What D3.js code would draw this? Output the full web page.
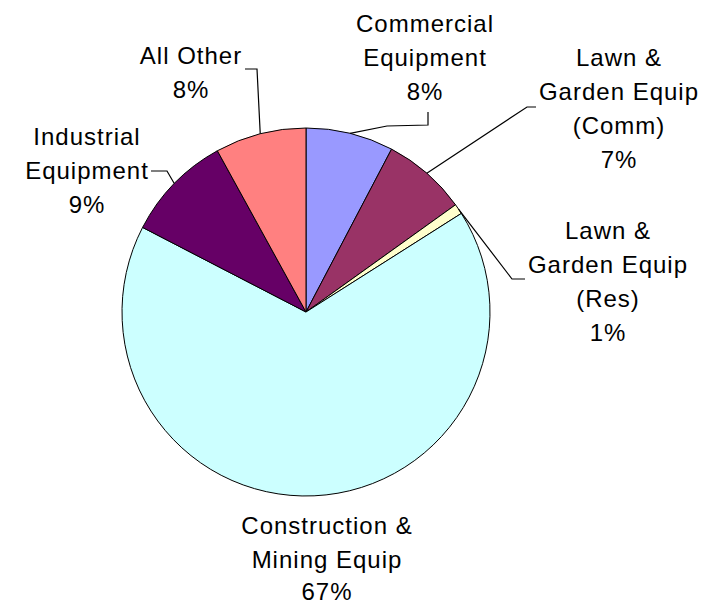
<!DOCTYPE html>
<html>
<head>
<meta charset="utf-8">
<script src="https://cdn.jsdelivr.net/npm/d3@7"></script>
<style>
  html, body { margin: 0; padding: 0; background: #fff; }
  svg { display: block; }
  text { font-family: "Liberation Sans", Arial, sans-serif; font-size: 24px; letter-spacing: 1px; fill: #000; }
</style>
</head>
<body>
<svg id="chart" width="710" height="607"></svg>
<script>
// ---- data ----
const categories = [
  "Commercial Equipment",
  "Lawn & Garden Equip (Comm)",
  "Lawn & Garden Equip (Res)",
  "Construction & Mining Equip",
  "Industrial Equipment",
  "All Other"
];
const values = [7.7, 7.4, 0.9, 66.6, 9.4, 8.0];
const colors = ["#9999FF", "#993366", "#FFFFCC", "#CCFFFF", "#660066", "#FF8080"];
const labelLines = [
  ["Commercial", "Equipment"],
  ["Lawn &", "Garden Equip", "(Comm)"],
  ["Lawn &", "Garden Equip", "(Res)"],
  ["Construction &", "Mining Equip"],
  ["Industrial", "Equipment"],
  ["All Other"]
];

// ---- layout (positions only) ----
const cx = 306, cy = 312, R = 184;
const lineH = 34;
const labelLayout = [
  { x: 425, y: 32 },
  { x: 619, y: 66 },
  { x: 608, y: 239 },
  { x: 327, y: 534 },
  { x: 87,  y: 145 },
  { x: 191, y: 64 }
];
// leader lines: extra points after the slice edge point
const leaderLayout = [
  [[387, 126], [428, 125], [428, 112]],
  [[527, 107], [536, 107]],
  [[512, 279], [525, 279]],
  null,
  [[167, 171], [151, 171]],
  [[257, 69], [245, 69]]
];

const svg = d3.select("#chart");
const g = svg.append("g").attr("transform", `translate(${cx},${cy})`);

const pie = d3.pie().sort(null).value(d => d)(values);
const arc = d3.arc().innerRadius(0).outerRadius(R);

g.selectAll("path.slice")
  .data(pie)
  .join("path")
  .attr("class", "slice")
  .attr("d", arc)
  .attr("fill", (d, i) => colors[i])
  .attr("stroke", "#000")
  .attr("stroke-width", 1);

// leader lines
const edgeArc = d3.arc().innerRadius(R).outerRadius(R);
const line = d3.line();
pie.forEach((d, i) => {
  const pts = leaderLayout[i];
  if (!pts) return;
  const c = edgeArc.centroid(d);
  const start = [c[0] + cx, c[1] + cy];
  svg.append("path")
    .attr("d", line([start, ...pts]))
    .attr("fill", "none")
    .attr("stroke", "#000")
    .attr("stroke-width", 1.2);
});

// labels
pie.forEach((d, i) => {
  const lay = labelLayout[i];
  const lines = labelLines[i].concat([Math.round(values[i]) + "%"]);
  const t = svg.append("text")
    .attr("text-anchor", "middle")
    .attr("x", lay.x)
    .attr("y", lay.y);
  lines.forEach((s, k) => {
    t.append("tspan")
      .attr("x", lay.x)
      .attr("y", lay.y + k * (k === lines.length - 1 && i === 3 ? lineH - 1 : lineH))
      .text(s);
  });
});
</script>
</body>
</html>
